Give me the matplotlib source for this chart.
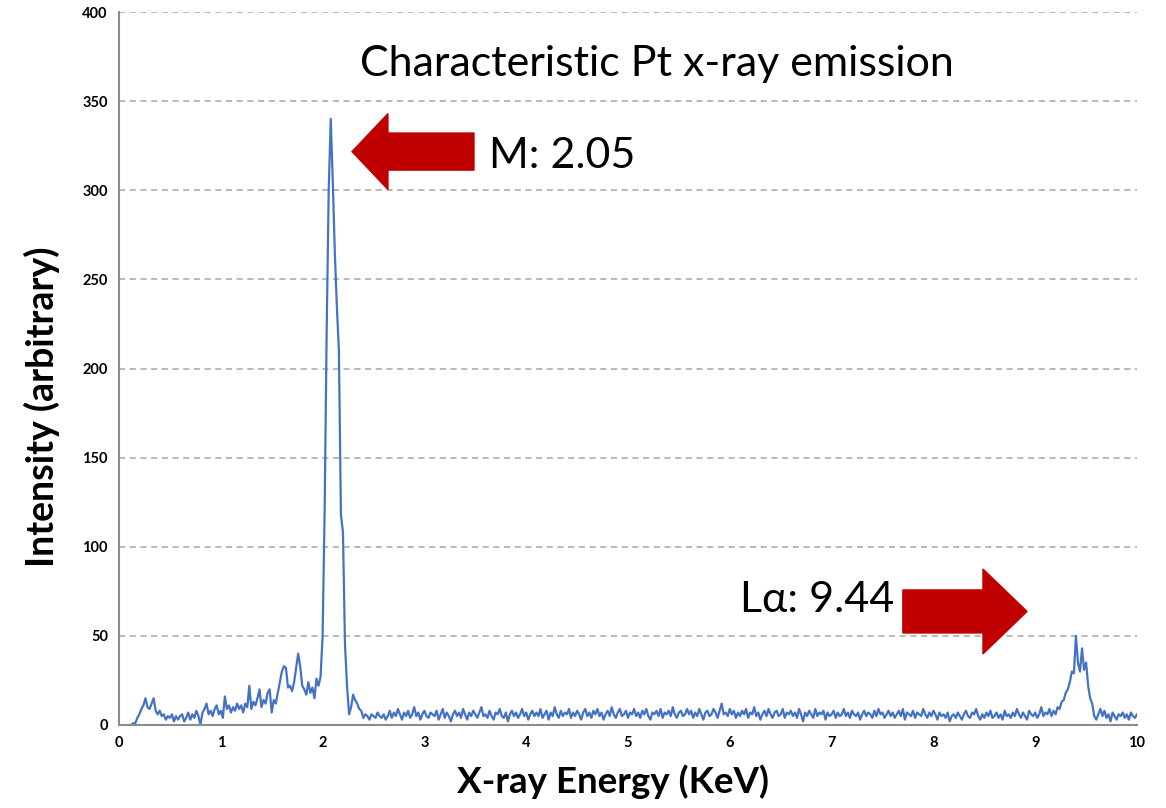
import numpy as np
import matplotlib
matplotlib.use("Agg")
import matplotlib.pyplot as plt
from matplotlib.patches import Polygon

plt.rcParams['font.family'] = ['Lato', 'DejaVu Sans']

# Spectrum: intensity sampled every 0.02 keV starting at 0.10 keV
start_energy = 0.10
step_energy = 0.02
intensity = [
    # 0.10 - 0.58
    0, 0, 1, 1, 4, 6, 9, 11, 15, 10, 9, 12, 15, 8, 6, 8, 5, 6, 3, 5, 4, 6, 2, 5, 3,
    # 0.60 - 1.08
    5, 6, 2, 4, 7, 3, 6, 4, 8, 5, 0, 7, 9, 12, 6, 8, 5, 9, 11, 6, 8, 4, 16, 9, 11,
    # 1.10 - 1.58
    7, 10, 8, 12, 9, 11, 7, 12, 10, 22, 9, 13, 11, 15, 20, 10, 14, 12, 18, 20, 7, 14, 12, 18, 24,
    # 1.60 - 2.08
    30, 33, 32, 21, 22, 19, 24, 32, 40, 33, 22, 20, 17, 24, 18, 21, 15, 26, 22, 27, 50, 120, 221, 300, 340,
    # 2.10 - 2.58
    305, 265, 235, 210, 118, 108, 45, 22, 6, 10, 17, 14, 12, 9, 8, 4, 6, 5, 3, 6, 5, 4, 7, 5, 4,
    # 2.60 - 3.08
    6, 3, 5, 8, 4, 7, 5, 9, 6, 3, 7, 5, 8, 4, 6, 10, 5, 7, 3, 6, 8, 5, 4, 7, 6,
    # 3.10 - 3.58
    5, 8, 3, 6, 9, 4, 7, 5, 2, 6, 8, 5, 7, 4, 9, 6, 3, 7, 5, 8, 6, 4, 7, 10, 5,
    # 3.60 - 4.08
    6, 4, 8, 5, 3, 7, 6, 9, 5, 4, 7, 2, 6, 8, 5, 7, 4, 6, 9, 5, 7, 3, 6, 8, 5,
    # 4.10 - 4.58
    7, 5, 9, 4, 6, 8, 3, 7, 5, 10, 6, 4, 8, 5, 7, 6, 9, 4, 7, 5, 8, 6, 3, 7, 9,
    # 4.60 - 5.08
    5, 7, 4, 8, 6, 9, 5, 7, 3, 6, 8, 5, 10, 6, 4, 7, 9, 5, 6, 8, 4, 7, 6, 9, 5,
    # 5.10 - 5.58
    7, 4, 8, 6, 9, 5, 3, 7, 6, 8, 5, 9, 4, 7, 6, 8, 5, 10, 6, 4, 7, 8, 5, 6, 9,
    # 5.60 - 6.08
    6, 8, 4, 7, 5, 9, 6, 3, 7, 8, 5, 6, 9, 7, 4, 8, 12, 6, 7, 5, 9, 6, 8, 4, 7,
    # 6.10 - 6.58
    5, 8, 6, 9, 4, 7, 6, 10, 5, 7, 3, 6, 8, 5, 9, 6, 4, 7, 8, 5, 6, 9, 4, 7, 6,
    # 6.60 - 7.08
    8, 5, 7, 4, 9, 6, 2, 7, 5, 8, 6, 4, 9, 5, 7, 6, 8, 3, 7, 5, 6, 8, 4, 7, 5,
    # 7.10 - 7.58
    6, 9, 5, 7, 4, 8, 6, 5, 7, 3, 6, 8, 5, 7, 6, 4, 8, 5, 9, 6, 7, 4, 6, 8, 5,
    # 7.60 - 8.08
    7, 4, 6, 8, 5, 9, 3, 7, 6, 5, 8, 4, 7, 6, 5, 9, 6, 4, 7, 5, 8, 6, 3, 7, 5,
    # 8.10 - 8.58
    6, 4, 7, 2, 5, 6, 4, 7, 5, 3, 6, 8, 5, 4, 7, 6, 9, 5, 3, 6, 4, 7, 5, 8, 4,
    # 8.60 - 9.08
    5, 7, 4, 6, 3, 8, 5, 6, 4, 7, 5, 9, 6, 4, 7, 5, 3, 8, 6, 5, 7, 4, 6, 10, 5,
    # 9.10 - 9.58
    7, 6, 9, 5, 8, 6, 10, 9, 13, 14, 18, 20, 24, 30, 29, 50, 35, 30, 43, 31, 35, 22, 15, 12, 5,
    # 9.60 - 10.00
    3, 6, 9, 5, 8, 4, 6, 2, 7, 5, 3, 6, 5, 7, 4, 6, 3, 7, 5, 4, 6,
]
energy = start_energy + step_energy * np.arange(len(intensity))

x_ticks = [0, 1, 2, 3, 4, 5, 6, 7, 8, 9, 10]
y_ticks = [0, 50, 100, 150, 200, 250, 300, 350, 400]

title_text = "Characteristic Pt x-ray emission"
m_label = "M: 2.05"
la_label = "L\u03b1: 9.44"

fig = plt.figure(figsize=(11.66, 8.08), dpi=100)
ax = fig.add_axes([119 / 1166, 83 / 808, (1137 - 119) / 1166, (725 - 12) / 808])

ax.plot(energy, intensity, color='#4472C4', lw=1.6)

ax.set_xlim(0, 10)
ax.set_ylim(0, 400)
ax.set_xticks(x_ticks)
ax.set_yticks(y_ticks)
ax.tick_params(length=0, labelsize=10.5, pad=8)
for lab in ax.get_xticklabels() + ax.get_yticklabels():
    lab.set_fontweight('bold')
ax.yaxis.grid(True, linestyle=(0, (4, 3)), color='#A6A6A6', lw=1.1)
ax.set_axisbelow(True)
for s in ['top', 'right']:
    ax.spines[s].set_visible(False)
for s in ['left', 'bottom']:
    ax.spines[s].set_color('#8C8C8C')
    ax.spines[s].set_linewidth(1.5)

ax.set_ylabel("Intensity (arbitrary)", fontsize=27, fontweight='bold', labelpad=16)
ax.set_xlabel("X-ray Energy (KeV)", fontsize=26.5, fontweight='bold', labelpad=10)
ax.yaxis.label.set_y(0.446)
ax.xaxis.label.set_x(0.485)

# Annotations
ax.text(5.28, 371, title_text, fontsize=31, ha='center', va='center', color='black')
ax.text(3.63, 319, m_label, fontsize=31, ha='left', va='center', color='black')
ax.text(7.62, 70, la_label, fontsize=31, ha='right', va='center', color='black')

red = '#C00000'
# left-pointing arrow near M peak
cy, sh, hh = 321.7, 10.4, 21.3
tail, base, tip = 3.487, 2.642, 2.289
left_arrow = Polygon([(tail, cy - sh), (tail, cy + sh), (base, cy + sh), (base, cy + hh),
                      (tip, cy), (base, cy - hh), (base, cy - sh)],
                     closed=True, color=red, clip_on=False, zorder=5)
ax.add_patch(left_arrow)
# right-pointing arrow near La peak
cy, sh, hh = 63.7, 12.06, 23.8
tail, base, tip = 7.70, 8.487, 8.92
right_arrow = Polygon([(tail, cy - sh), (tail, cy + sh), (base, cy + sh), (base, cy + hh),
                       (tip, cy), (base, cy - hh), (base, cy - sh)],
                      closed=True, color=red, clip_on=False, zorder=5)
ax.add_patch(right_arrow)

fig.savefig("out.png", dpi=100)
